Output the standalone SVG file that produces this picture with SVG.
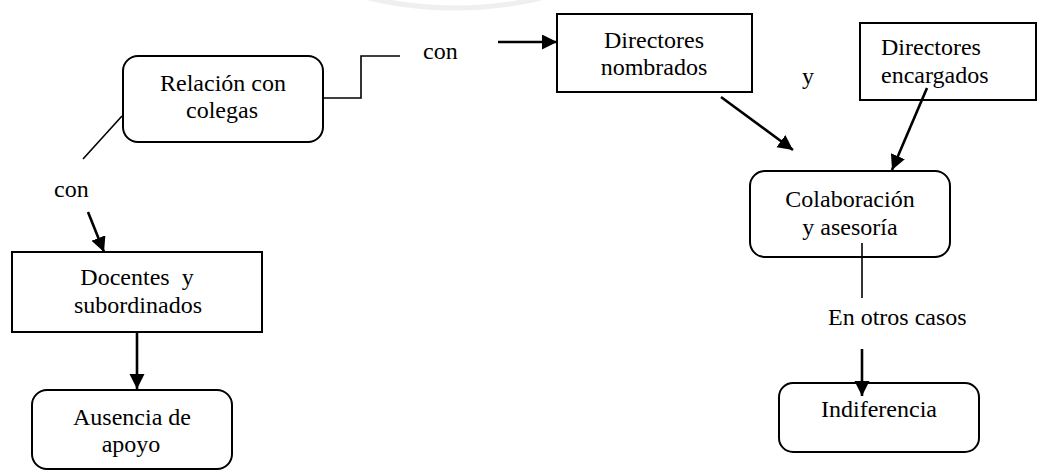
<svg xmlns="http://www.w3.org/2000/svg" width="1037" height="471" viewBox="0 0 1037 471" font-family="Liberation Serif, Times New Roman, DejaVu Serif, serif">
<style>
.box{fill:#fff;stroke:#000;stroke-width:2}
.t{font-size:24px;fill:#000}
.c{text-anchor:middle}
.ln{fill:none;stroke:#000;stroke-width:1.6}
.ar{fill:none;stroke:#000;stroke-width:2.6}
</style>
<defs>
<marker id="ah" markerUnits="userSpaceOnUse" markerWidth="16" markerHeight="16" refX="15" refY="7.5" orient="auto">
<path d="M0,0 L15,7.5 L0,15 z" fill="#000"/>
</marker>
</defs>
<rect width="1037" height="471" fill="#fff"/>
<ellipse cx="455" cy="-70" rx="175" ry="78" fill="none" stroke="#efefef" stroke-width="5"/>
<g id="relacion">
<rect class="box" x="123" y="56" width="200" height="86" rx="15"/>
<text class="t c" x="223" y="91" font-family="Liberation Serif, serif">Relación con</text>
<text class="t c" x="222" y="118" font-family="Liberation Serif, serif">colegas</text>
</g>
<g id="dir-nombrados">
<rect class="box" x="557" y="14" width="195" height="78"/>
<text class="t c" x="654" y="48">Directores</text>
<text class="t c" x="654" y="75">nombrados</text>
</g>
<g id="dir-encargados">
<rect class="box" x="860" y="23" width="176" height="77"/>
<text class="t" x="881" y="55">Directores</text>
<text class="t" x="881" y="83">encargados</text>
</g>
<g id="colaboracion">
<rect class="box" x="750" y="171" width="200" height="86" rx="15"/>
<text class="t c" x="850" y="207">Colaboración</text>
<text class="t c" x="850" y="235">y asesoría</text>
</g>
<g id="docentes">
<rect class="box" x="12" y="252" width="250" height="80"/>
<text class="t c" x="137" y="285" xml:space="preserve">Docentes  y</text>
<text class="t c" x="138" y="313">subordinados</text>
</g>
<g id="ausencia">
<rect class="box" x="32" y="390" width="200" height="79" rx="15"/>
<text class="t c" x="132" y="425">Ausencia de</text>
<text class="t c" x="131" y="452">apoyo</text>
</g>
<g id="indiferencia">
<rect class="box" x="779" y="383" width="200" height="69" rx="14"/>
<text class="t c" x="879" y="417">Indiferencia</text>
</g>
<g id="connectors">
<polyline class="ln" points="323,98 361,98 361,56 400,56"/>
<line class="ar" x1="498" y1="42" x2="557" y2="42" marker-end="url(#ah)"/>
<line class="ln" x1="122" y1="116" x2="83" y2="159"/>
<line class="ar" x1="88" y1="212" x2="104" y2="252" marker-end="url(#ah)"/>
<line class="ar" x1="137" y1="332" x2="137" y2="389" marker-end="url(#ah)"/>
<line class="ar" x1="721" y1="97" x2="793" y2="150" marker-end="url(#ah)"/>
<line class="ar" x1="927" y1="88" x2="892" y2="170" marker-end="url(#ah)"/>
<line class="ln" x1="862" y1="243" x2="862" y2="298"/>
<line class="ar" x1="862" y1="349" x2="862" y2="396" marker-end="url(#ah)"/>
<text class="t" x="423" y="59">con</text>
<text class="t" x="54" y="197">con</text>
<text class="t" x="802" y="84">y</text>
<text class="t" x="828" y="325">En otros casos</text>
</g>
</svg>
